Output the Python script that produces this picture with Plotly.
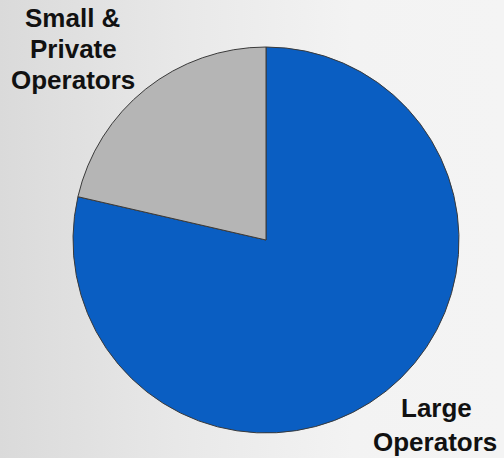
import plotly.graph_objects as go

# slices listed so that "Large" runs clockwise from 12 o'clock, leaving "Small" in the upper left
labels = ["Large Operators", "Small & Private Operators"]
values = [78.6, 21.4]
colors = ["#0a5ec2", "#b5b5b5"]

W, H = 504, 458

fig = go.Figure()

# soft light-gray background gradient (darker left, lighter right)
fig.add_trace(go.Scatter(
    x=[0, 1, 1, 0, 0], y=[0, 0, 1, 1, 0], mode="lines",
    line=dict(width=0), fill="toself",
    fillgradient=dict(type="horizontal",
                      colorscale=[[0, "#dadada"], [0.35, "#e8e8e8"], [0.7, "#f3f3f3"], [1, "#f4f4f4"]]),
    hoverinfo="skip", showlegend=False,
))

fig.add_trace(go.Pie(
    labels=labels,
    values=values,
    sort=False,
    direction="clockwise",
    rotation=0,
    marker=dict(colors=colors, line=dict(color="#3a3a3a", width=1)),
    textinfo="none",
    hoverinfo="label+percent",
    showlegend=False,
    domain=dict(x=[72 / W, 460 / W], y=[(H - 433) / H, (H - 47) / H]),
))

font = dict(family="Liberation Sans, Arial, sans-serif", size=26, color="#111111")
label_lines = [
    ("Small &", 72, 18.5),
    ("Private", 73, 49),
    ("Operators", 73, 80),
    ("Large", 436, 408),
    ("Operators", 435, 442),
]
for txt, px, py in label_lines:
    fig.add_annotation(
        text=f"<b>{txt}</b>", x=px / W, y=1 - py / H, xref="paper", yref="paper",
        xanchor="center", yanchor="middle", showarrow=False, font=font,
    )

fig.update_layout(
    width=W, height=H,
    margin=dict(l=0, r=0, t=0, b=0),
    paper_bgcolor="#e8e8e8",
    plot_bgcolor="rgba(0,0,0,0)",
    xaxis=dict(range=[0, 1], visible=False, domain=[0, 1]),
    yaxis=dict(range=[0, 1], visible=False, domain=[0, 1]),
)

fig.write_html("out.html")
